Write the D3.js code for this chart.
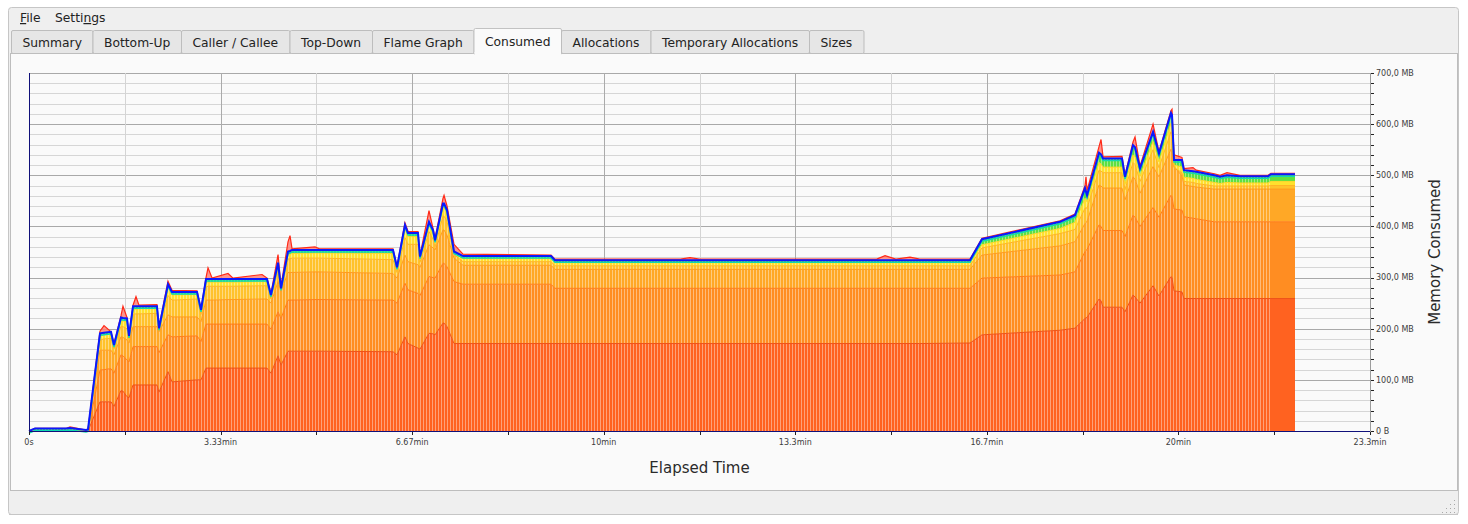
<!DOCTYPE html>
<html lang="en">
<head>
    <meta charset="UTF-8">
    <title>heaptrack - Consumed</title>
    <script src="https://d3js.org/d3.v7.min.js"></script>
    <style>
        body { margin: 0; background: #ffffff; }
        svg { display: block; font-family: "DejaVu Sans", sans-serif; }
    </style>
</head>
<body>
<svg></svg>
<script>
    // elapsed time of each sample, in seconds
    let times = [0, 6.3, 38.6, 42.8, 59.5, 61.6, 74.1, 78.3, 85.6, 88.7,
        96.0, 98.1, 102.3, 104.4, 108.6, 111.7, 114.8, 133.6, 135.7, 145.1,
        149.3, 175.4, 179.6, 184.8, 186.9, 191.1, 207.8, 213.0, 243.3, 248.5,
        252.6, 260.0, 263.1, 270.4, 272.5, 274.6, 298.6, 303.8, 380.0, 384.2,
        392.5, 395.7, 406.1, 408.2, 417.6, 421.8, 423.9, 432.2, 433.3, 436.4,
        443.7, 453.1, 545.0, 549.1, 680, 690.1, 700, 885, 893.7, 905,
        919.8, 930, 982.4, 994.9, 1076.4, 1092.0, 1102.5, 1103.5, 1104.6, 1117.1,
        1119.2, 1121.3, 1141.1, 1144.2, 1152.6, 1154.7, 1159.9, 1173.5, 1179.7, 1192.2,
        1193.3, 1195.4, 1203.7, 1205.8, 1215.2, 1218.6, 1237.4, 1243.4, 1250.7, 1264.3,
        1293.5, 1296.6, 1321.7];

    // cumulative memory (MB) at the top of each stacked allocation group
    let layer1 = [0, 0, 0, 0, 0, 0, 57, 57, 57, 48,
        79, 78, 67, 65, 90, 90, 90, 90, 76, 116,
        96, 100, 100, 123, 123, 123, 123, 123, 123, 123,
        113, 147, 129, 156, 156, 156, 156, 156, 155, 149,
        184, 171, 162, 160, 191, 190, 188, 211, 211, 204,
        171, 171, 171, 171, 171, 171, 171, 171, 171, 171,
        171, 171, 172, 188, 197, 201, 220, 221, 222, 258,
        255, 242, 242, 233, 266, 262, 250, 284, 264, 302,
        300, 274, 272, 259, 259, 259, 259, 259, 259, 259,
        259, 259, 259];
    let layer2 = [0, 0, 0, 0, 0, 0, 119, 120, 122, 113,
        149, 147, 139, 135, 165, 165, 165, 165, 153, 188,
        184, 186, 175, 209, 209, 209, 209, 209, 209, 209,
        199, 233, 220, 256, 256, 256, 257, 257, 256, 250,
        289, 276, 269, 265, 302, 300, 299, 328, 328, 321,
        292, 287, 287, 279, 279, 279, 279, 279, 279, 279,
        279, 279, 279, 299, 305, 311, 351, 353, 355, 403,
        400, 392, 392, 380, 422, 418, 400, 437, 418, 461,
        458, 434, 432, 419, 416, 415, 409, 409, 409, 409,
        409, 409, 409];
    let layer3 = [0, 0, 0, 0, 0, 0, 158, 158, 158, 149,
        184, 183, 178, 172, 204, 204, 204, 204, 194, 227,
        223, 223, 214, 256, 256, 256, 257, 257, 258, 258,
        250, 292, 272, 310, 310, 310, 311, 311, 308, 299,
        344, 331, 325, 320, 364, 358, 354, 393, 393, 383,
        338, 324, 324, 316, 316, 316, 316, 316, 316, 316,
        316, 316, 316, 344, 362, 370, 406, 408, 410, 481,
        479, 475, 475, 452, 497, 492, 465, 517, 497, 551,
        548, 517, 499, 481, 478, 477, 473, 473, 473, 473,
        473, 473, 473];
    let layer4 = [0, 0, 0, 0, 0, 0, 178, 180, 181, 160,
        205, 204, 200, 180, 228, 229, 229, 230, 196, 265,
        256, 258, 228, 282, 283, 283, 283, 283, 284, 284,
        258, 315, 274, 336, 337, 338, 338, 338, 335, 310,
        378, 365, 365, 330, 390, 375, 360, 420, 420, 410,
        345, 331, 331, 323, 323, 323, 323, 323, 323, 323,
        323, 323, 323, 358, 386, 394, 436, 436, 436, 510,
        508, 505, 505, 472, 525, 521, 488, 550, 515, 585,
        580, 515, 505, 488, 486, 484, 479, 479, 479, 479,
        479, 480, 480];
    let layer5 = [0, 1, 1, 1.5, 1, 1, 186, 188, 189, 164,
        216, 215, 214, 182, 238, 238, 239, 239, 198, 280,
        266, 267, 233, 291, 291, 291, 291, 291, 292, 292,
        262, 323, 276, 345, 346, 347, 348, 348, 347, 315,
        395, 380, 380, 336, 402, 385, 368, 437, 437, 425,
        348, 337, 337, 329, 329, 329, 329, 329, 329, 329,
        329, 329, 329, 364, 396, 408, 455, 452, 448, 525,
        522, 516, 516, 482, 540, 536, 498, 566, 526, 602,
        598, 520, 516, 496, 494, 492, 486, 484, 486, 485,
        485, 488, 488];
    let total = [0, 5, 5, 6, 2, 3, 191, 192, 194, 168,
        222, 221, 220, 186, 244, 244, 244, 244, 201, 287,
        272, 272, 237, 297, 297, 297, 297, 297, 297, 297,
        266, 329, 279, 351, 352, 354, 354, 354, 354, 320,
        403, 387, 387, 341, 409, 393, 373, 445, 445, 432,
        351, 342, 342, 334, 334, 334, 334, 334, 334, 334,
        334, 334, 334, 375, 409, 422, 475, 468, 461, 544,
        541, 533, 533, 497, 559, 555, 514, 585, 543, 622,
        618, 530, 530, 510, 508, 507, 500, 497, 500, 498,
        498, 502, 502];
    let peak = [0, 5, 5, 8, 2, 3, 195, 206, 194, 170,
        225, 244, 222, 188, 246, 263, 246, 247, 203, 293,
        275, 274, 239, 300, 319, 299, 308, 299, 306, 299,
        268, 345, 283, 370, 382, 356, 360, 356, 356, 322,
        407, 390, 390, 343, 431, 396, 376, 455, 461, 440,
        365, 346, 344, 336, 336, 339, 336, 336, 343, 336,
        340, 336, 336, 377, 411, 424, 480, 497, 470, 556,
        570, 536, 537, 500, 565, 575, 518, 600, 546, 626,
        629, 540, 535, 513, 515, 510, 503, 500, 505, 500,
        500, 504, 504];

    let xTicks = [0, 200, 400, 600, 800, 1000, 1200, 1400];
    let xTickLabels = ["0s", "3.33min", "6.67min", "10min", "13.3min", "16.7min", "20min", "23.3min"];
    let yTicks = [0, 100, 200, 300, 400, 500, 600, 700];
    let yTickLabels = ["0 B", "100,0 MB", "200,0 MB", "300,0 MB", "400,0 MB", "500,0 MB", "600,0 MB", "700,0 MB"];
    let tabs = ["Summary", "Bottom-Up", "Caller / Callee", "Top-Down", "Flame Graph", "Consumed",
        "Allocations", "Temporary Allocations", "Sizes"];
    let activeTab = "Consumed";

    let width = 1468;
    let height = 524;
    let plot = {left: 29, right: 1370, top: 73, bottom: 431};

    let svg = d3.select("svg")
        .attr("width", width)
        .attr("height", height);

    // window chrome
    svg.append("rect")
        .attr("x", 8.5).attr("y", 7.5)
        .attr("width", 1450).attr("height", 507)
        .attr("rx", 3)
        .attr("fill", "#efefef")
        .attr("stroke", "#c6c6c6");

    // menu bar, with the mnemonic letters underlined
    let menu = svg.append("text")
        .attr("y", 22)
        .style("font-size", "12.3px")
        .attr("fill", "#232323");
    menu.append("tspan").attr("x", 20).style("text-decoration", "underline").text("F");
    menu.append("tspan").text("ile");
    menu.append("tspan").attr("x", 55).text("Setti");
    menu.append("tspan").style("text-decoration", "underline").text("n");
    menu.append("tspan").text("gs");

    // content pane
    svg.append("rect")
        .attr("x", 10.5).attr("y", 53.5)
        .attr("width", 1447).attr("height", 437)
        .attr("fill", "#fafafa")
        .attr("stroke", "#bdbdbd");

    // tabs
    let tabX = 11.5;
    tabs.forEach(function (name) {
        let active = name === activeTab;
        let g = svg.append("g");
        let label = g.append("text")
            .attr("y", 47)
            .style("font-size", "12.3px")
            .attr("fill", "#232323")
            .text(name);
        let w = Math.round(label.node().getComputedTextLength()) + 22.5;
        g.insert("rect", "text")
            .attr("x", tabX)
            .attr("y", active ? 28.5 : 30.5)
            .attr("width", w)
            .attr("height", active ? 26 : 23)
            .attr("rx", 1.5)
            .attr("fill", active ? "#fafafa" : "#e6e6e6")
            .attr("stroke", active ? "#c2c2c2" : "#bdbdbd");
        if (active) {
            g.append("rect")
                .attr("x", tabX + 0.5).attr("y", 52)
                .attr("width", w - 1).attr("height", 3)
                .attr("fill", "#fafafa");
            label.attr("y", 46);
        }
        label.attr("x", tabX + 11);
        tabX += w;
    });

    // bottom strip and size grip
    svg.append("line")
        .attr("x1", 9).attr("x2", 1458)
        .attr("y1", 514.5).attr("y2", 514.5)
        .attr("stroke", "#c6c6c6");
    [[1454, 500], [1450, 504], [1454, 504], [1446, 508], [1450, 508], [1454, 508], [1442, 512], [1446, 512], [1450, 512], [1454, 512]]
        .forEach(function (p) {
            svg.append("rect").attr("x", p[0]).attr("y", p[1]).attr("width", 1).attr("height", 1).attr("fill", "#a8a8a8");
        });

    let x = d3.scaleLinear().domain([0, 1400]).range([plot.left, plot.right]);
    let y = d3.scaleLinear().domain([0, 700]).range([plot.bottom, plot.top]);

    let crisp = v => Math.round(v) + 0.5;

    // grid
    let grid = svg.append("g");
    d3.range(0, 701, 20).forEach(function (v) {
        grid.append("line")
            .attr("x1", plot.left).attr("x2", plot.right)
            .attr("y1", crisp(y(v))).attr("y2", crisp(y(v)))
            .attr("stroke", v % 100 === 0 ? "#a9a9a9" : "#d6d6d6");
    });
    d3.range(0, 1401, 100).forEach(function (t) {
        grid.append("line")
            .attr("x1", crisp(x(t))).attr("x2", crisp(x(t)))
            .attr("y1", plot.top).attr("y2", plot.bottom)
            .attr("stroke", t % 200 === 0 ? "#ababab" : "#d4d4d4");
    });

    // stripe pattern that gives the sampled look of the areas
    let defs = svg.append("defs");
    let pattern = defs.append("pattern")
        .attr("id", "stripes")
        .attr("patternUnits", "userSpaceOnUse")
        .attr("width", 3).attr("height", 10);
    pattern.append("rect")
        .attr("x", 0).attr("y", 0).attr("width", 1).attr("height", 10)
        .attr("fill", "#ffffff").attr("fill-opacity", 0.4);
    defs.append("clipPath").attr("id", "sampled")
        .append("rect")
        .attr("x", x(0)).attr("y", plot.top)
        .attr("width", x(1296) - x(0)).attr("height", plot.bottom - plot.top);

    let bands = [
        {lo: null, hi: layer1, fill: "#ff6220", line: "#ee5218"},
        {lo: layer1, hi: layer2, fill: "#ff8d22", line: "#ff7d1a"},
        {lo: layer2, hi: layer3, fill: "#ffa826", line: "#ff9a1e"},
        {lo: layer3, hi: layer4, fill: "#ffc22c", line: "#ffb424"},
        {lo: layer4, hi: layer5, fill: "#ffe02e", line: "#ffd628"},
        {lo: layer5, hi: total, fill: "#5ee040", line: "#c6f02a"}
    ];

    let chart = svg.append("g");

    bands.forEach(function (b) {
        let area = d3.area()
            .x((d, i) => x(times[i]))
            .y0((d, i) => y(b.lo ? b.lo[i] : 0))
            .y1((d, i) => y(b.hi[i]));
        chart.append("path")
            .datum(times)
            .attr("d", area)
            .attr("fill", b.fill);
    });

    // stripes over the sampled part of the stack
    chart.append("path")
        .datum(times)
        .attr("d", d3.area().x((d, i) => x(times[i])).y0(y(0)).y1((d, i) => y(total[i])))
        .attr("fill", "url(#stripes)")
        .attr("clip-path", "url(#sampled)");

    // boundary lines of every band
    bands.slice(0, 5).forEach(function (b) {
        chart.append("path")
            .datum(times)
            .attr("d", d3.line().x((d, i) => x(times[i])).y((d, i) => y(b.hi[i])))
            .attr("fill", "none")
            .attr("stroke", b.line)
            .attr("stroke-width", 1);
    });

    // peak consumption above the total
    chart.append("path")
        .datum(times)
        .attr("d", d3.area().x((d, i) => x(times[i])).y0((d, i) => y(total[i])).y1((d, i) => y(peak[i])))
        .attr("fill", "#ff7a70")
        .attr("fill-opacity", 0.8);
    chart.append("path")
        .datum(times)
        .attr("d", d3.line().x((d, i) => x(times[i])).y((d, i) => y(peak[i])))
        .attr("fill", "none")
        .attr("stroke", "#ff2a18")
        .attr("stroke-width", 1.2);

    let totalLine = d3.line().x((d, i) => x(times[i])).y((d, i) => y(total[i]));
    chart.append("path")
        .datum(times)
        .attr("d", totalLine)
        .attr("transform", "translate(0,2)")
        .attr("fill", "none")
        .attr("stroke", "#10d8b0")
        .attr("stroke-width", 1.5);
    chart.append("path")
        .datum(times)
        .attr("d", totalLine)
        .attr("fill", "none")
        .attr("stroke", "#0a18ff")
        .attr("stroke-width", 2);

    // frame lines on the left and bottom
    svg.append("line")
        .attr("x1", plot.left + 0.5).attr("x2", plot.left + 0.5)
        .attr("y1", plot.top).attr("y2", plot.bottom + 1)
        .attr("stroke", "#10107a");
    svg.append("line")
        .attr("x1", plot.left).attr("x2", plot.right)
        .attr("y1", plot.bottom + 0.5).attr("y2", plot.bottom + 0.5)
        .attr("stroke", "#10107a");

    // right axis
    let yAxis = svg.append("g");
    yAxis.append("line")
        .attr("x1", plot.right + 0.5).attr("x2", plot.right + 0.5)
        .attr("y1", plot.top).attr("y2", plot.bottom + 1)
        .attr("stroke", "#9c9c9c");
    d3.range(0, 701, 20).forEach(function (v) {
        yAxis.append("line")
            .attr("x1", plot.right + 1).attr("x2", plot.right + 4)
            .attr("y1", crisp(y(v))).attr("y2", crisp(y(v)))
            .attr("stroke", "#222");
    });
    yAxis.selectAll("text.ytick")
        .data(yTicks)
        .enter()
        .append("text")
        .attr("class", "ytick")
        .attr("x", plot.right + 6)
        .attr("y", d => y(d))
        .attr("dy", "0.35em")
        .style("font-size", "8px")
        .attr("fill", "#3c3c3c")
        .text((d, i) => yTickLabels[i]);

    // bottom axis
    let xAxis = svg.append("g");
    d3.range(0, 1401, 100).forEach(function (t) {
        xAxis.append("line")
            .attr("x1", crisp(x(t))).attr("x2", crisp(x(t)))
            .attr("y1", plot.bottom + 1).attr("y2", plot.bottom + 4)
            .attr("stroke", "#222");
    });
    xAxis.selectAll("text.xtick")
        .data(xTicks)
        .enter()
        .append("text")
        .attr("class", "xtick")
        .attr("x", d => x(d))
        .attr("y", plot.bottom + 14)
        .style("font-size", "8px")
        .style("text-anchor", "middle")
        .attr("fill", "#3c3c3c")
        .text((d, i) => xTickLabels[i]);

    svg.append("text")
        .attr("x", (plot.left + plot.right) / 2)
        .attr("y", 473)
        .style("font-size", "15px")
        .style("text-anchor", "middle")
        .attr("fill", "#2a2a2a")
        .text("Elapsed Time");
    svg.append("text")
        .attr("transform", "translate(1440," + (plot.top + plot.bottom) / 2 + ") rotate(-90)")
        .style("font-size", "15px")
        .style("text-anchor", "middle")
        .attr("fill", "#2a2a2a")
        .text("Memory Consumed");
</script>
</body>
</html>
